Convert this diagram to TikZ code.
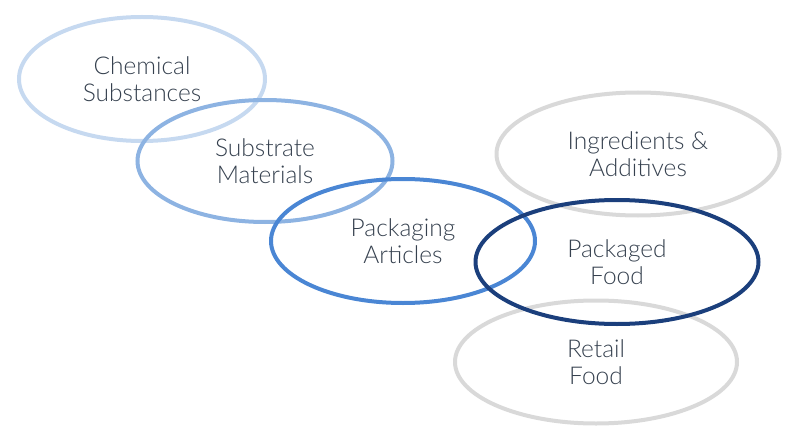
\documentclass[tikz,border=0pt]{standalone}
\usepackage{fontspec}
\setmainfont{Lato Light}
\usetikzlibrary{shapes.geometric}
\definecolor{cChem}{HTML}{C6D9F0}
\definecolor{cSub}{HTML}{8DB3E2}
\definecolor{cPack}{HTML}{4A86D4}
\definecolor{cFood}{HTML}{1B3F7C}
\definecolor{cGray}{HTML}{D9D9D9}
\definecolor{cText}{HTML}{36414F}
\tikzset{
  oval/.style={ellipse, draw, line width=4pt, inner sep=0pt, align=center,
    text=cText, font=\fontsize{24.5}{27.5}\selectfont},
}
\begin{document}
\begin{tikzpicture}[x=1pt,y=-1pt]
\useasboundingbox (0,0) rectangle (800,441);
\node[oval, draw=cChem, minimum width=246pt, minimum height=124pt] (chem) at (142,79) {Chemical\\Substances};
\node[oval, draw=cSub, minimum width=255pt, minimum height=122pt] (sub) at (265,161) {Substrate\\Materials};
\node[oval, draw=cPack, minimum width=264pt, minimum height=124pt] (pack) at (403,241) {Packaging\\Articles};
\node[oval, draw=cGray, minimum width=283pt, minimum height=123pt] (ingr) at (638,154) {Ingredients \&\\Additives};
\node[oval, draw=cGray, minimum width=282pt, minimum height=123pt] (retail) at (596,362) {Retail\\Food};
\node[oval, draw=cFood, minimum width=283pt, minimum height=124pt] (food) at (617,262) {Packaged\\Food};
\end{tikzpicture}
\end{document}
